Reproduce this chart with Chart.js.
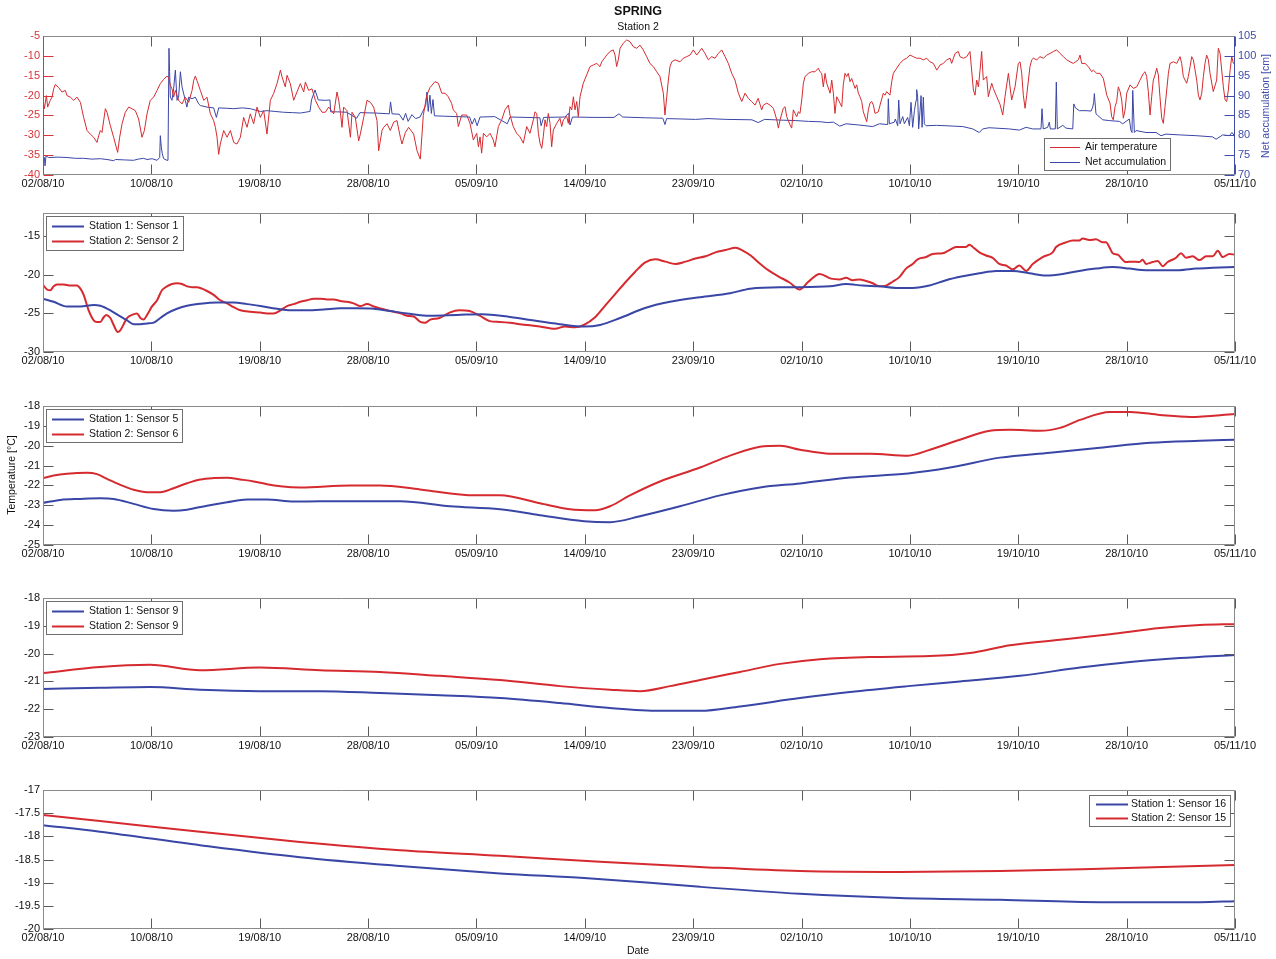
<!DOCTYPE html>
<html>
<head>
<meta charset="utf-8">
<title>SPRING – Station 2</title>
<script src="https://cdn.jsdelivr.net/npm/chart.js@4.4.1/dist/chart.umd.min.js"></script>
<style>
  html, body { margin: 0; padding: 0; background: #fff; }
  #wrap { position: relative; width: 1276px; height: 959px; overflow: hidden; }
  #wrap canvas { position: absolute; left: 0; top: 0; }
</style>
</head>
<body>
<div id="wrap">
  <canvas id="p1" width="1276" height="959"></canvas>
  <canvas id="p2" width="1276" height="959"></canvas>
  <canvas id="p3" width="1276" height="959"></canvas>
  <canvas id="p4" width="1276" height="959"></canvas>
  <canvas id="p5" width="1276" height="959"></canvas>
</div>
<script>
// ---- time axis: days since 02/08/10 ----
const spanDays = 95;
const dateLabels = ['02/08/10','10/08/10','19/08/10','28/08/10','05/09/10','14/09/10',
                    '23/09/10','02/10/10','10/10/10','19/10/10','28/10/10','05/11/10'];

// ---- panel 1: air temperature [°C] and net accumulation [cm], station 2 ----
const airTemperature = [[0,-21.2],[0.11,-23.3],[0.27,-20],[0.37,-22.9],[0.58,-21.2],[0.72,-20.4],[0.85,-18.3],[0.98,-17.2],[1.25,-18],[1.51,-19.1],[1.78,-18.7],[1.91,-20],[2.18,-20.4],[2.44,-21.2],[2.71,-20.4],[2.98,-21.7],[3.24,-25.5],[3.51,-28.8],[3.77,-29.7],[4.04,-30.5],[4.3,-31.8],[4.44,-30.1],[4.57,-28.8],[4.7,-29.3],[4.97,-23.3],[5.1,-24.2],[5.37,-27.6],[5.63,-30.5],[5.77,-32.2],[5.95,-34.3],[6.11,-30.5],[6.3,-27.1],[6.56,-24.2],[6.83,-22.9],[7.09,-23.3],[7.36,-23.8],[7.62,-25.9],[7.89,-30.5],[8.08,-28.8],[8.29,-24.6],[8.55,-21.2],[8.82,-20.4],[9.09,-18.7],[9.35,-17],[9.62,-15.9],[9.88,-15.1],[10.02,-15.5],[10.15,-17.4],[10.28,-18.3],[10.41,-20.4],[10.55,-18.7],[10.81,-21.2],[11.08,-22.1],[11.34,-20.4],[11.61,-21.7],[11.88,-18.7],[12.01,-16.2],[12.14,-15.1],[12.27,-16.2],[12.54,-18.7],[12.81,-21.2],[13.07,-20.4],[13.34,-24.6],[13.6,-26.3],[13.74,-28],[13.87,-30.5],[14,-34.8],[14.13,-32.2],[14.4,-28.8],[14.67,-30.5],[14.93,-28.8],[15.2,-31.8],[15.46,-32.2],[15.73,-30.5],[15.99,-25.5],[16.26,-28],[16.52,-24.6],[16.79,-27.1],[17.06,-22.9],[17.32,-25.5],[17.59,-23.8],[17.85,-29.7],[18.12,-21.2],[18.38,-19.5],[18.65,-17],[18.92,-13.6],[19.05,-15.3],[19.31,-17.8],[19.45,-14.9],[19.71,-17],[19.98,-21.2],[20.24,-19.1],[20.51,-17],[20.78,-19.1],[20.91,-16.6],[21.17,-18.7],[21.44,-18.3],[21.71,-21.2],[21.97,-22.9],[22.24,-24.2],[22.5,-24.2],[22.77,-22.9],[23.17,-24.6],[23.43,-19.1],[23.57,-21.2],[23.7,-24.2],[23.83,-28],[23.96,-22.9],[24.23,-23.8],[24.5,-30.5],[24.63,-24.2],[24.89,-25.5],[25.16,-31.4],[25.29,-29.7],[25.56,-25.5],[25.82,-21.2],[26.09,-21.7],[26.35,-22.9],[26.62,-26.3],[26.75,-33.9],[27.02,-28.8],[27.15,-28],[27.42,-27.1],[27.68,-28.8],[27.95,-26.7],[28.21,-26.3],[28.48,-30.5],[28.61,-32.2],[28.88,-29.3],[29.14,-28],[29.54,-29.7],[29.81,-33.9],[30.07,-36],
[30.31,-25],[30.58,-20],[30.84,-18],[31.24,-16.5],[31.51,-16.9],[31.78,-19.4],[32.04,-19.4],[32.3,-20.3],[32.57,-22],[32.7,-23.6],[32.97,-24.5],[33.1,-27.8],[33.37,-24.9],[33.77,-24.9],[34.03,-27],[34.3,-31.2],[34.57,-29.5],[34.7,-32.9],[34.83,-30.4],[34.96,-34.5],[35.1,-29.5],[35.36,-30.4],[35.63,-29.5],[35.89,-31.2],[36.02,-32.9],[36.29,-27.8],[36.56,-26.1],[36.82,-23.6],[37.09,-22.4],[37.22,-24.9],[37.48,-27.8],[37.75,-29.5],[38.02,-30.4],
[38.28,-32],[38.55,-27.8],[38.81,-29.5],[39.08,-26.1],[39.21,-24.1],[39.35,-24.5],[39.48,-29.5],[39.61,-32],[39.75,-33.3],[39.87,-30.4],[40.01,-26.1],[40.14,-27.8],[40.27,-24.5],[40.41,-27],[40.54,-32.9],[40.67,-28.7],[40.94,-27],[41.2,-25.7],[41.34,-27.8],[41.47,-26.1],[41.74,-25.3],[41.87,-27],[42,-22.8],[42.14,-23.6],[42.27,-20.3],[42.4,-23.6],[42.54,-21.5],[42.66,-25.3],[42.8,-20.3],[42.93,-18.6],[43.06,-16.9],[43.33,-14.8],[43.6,-12.7],[43.86,-12.3],[44.13,-11.9],[44.39,-12.7],[44.53,-11.5],[44.93,-9.8],[45.19,-8.9],[45.45,-8.5],[45.59,-9.8],[45.72,-12.7],[45.85,-11],[45.99,-8.1],[46.25,-6.8],[46.52,-6],[46.78,-6.4],[47.05,-7.7],[47.32,-8.1],[47.58,-7.3],[47.84,-8.5],[48.11,-10.2],[48.37,-11.9],[48.64,-12.7],[48.91,-14],[49.17,-15.2],[49.44,-19.4],[49.57,-24.9],[49.71,-20.3],[49.84,-16.1],[49.97,-12.7],[50.11,-11.5],[50.37,-11],[50.77,-11.5],[51.03,-10.6],[51.3,-10.2],[51.57,-9.8],[51.83,-8.5],[52.1,-9.8],[52.5,-8.1],[52.76,-9.4],[53.03,-11],[53.29,-10.2],[53.56,-10.6],[53.82,-9.4],[54.09,-8.5],[54.36,-10.2],[54.62,-11.9],[54.89,-14.4],[55.15,-16.1],[55.42,-19.4],[55.69,-21.5],[55.95,-19.4],[56.21,-20.7],[56.48,-21.5],[56.75,-22.4],[57,-20.7],[57.28,-23.6],
[57.41,-22.4],[57.68,-21.9],[57.94,-22.4],[58.21,-23.2],[58.48,-26.1],[58.61,-28.2],[58.74,-26.1],[59,-23.2],[59.14,-22.8],[59.27,-25.3],[59.54,-27.4],[59.67,-28.2],[59.8,-23.6],[59.94,-24.5],[60.07,-25.3],[60.2,-24.1],[60.33,-24.5],[60.47,-21.1],[60.6,-16.9],[60.73,-15.2],[61,-14.4],[61.26,-14],[61.53,-14],[61.79,-13.1],[61.93,-14],[62.06,-14.4],[62.19,-17.8],[62.33,-14.4],[62.46,-16.9],[62.73,-19.4],[62.86,-16.1],[62.99,-19.4],[63.12,-24.5],[63.26,-20.3],[63.52,-21.9],[63.66,-22.8],[63.78,-17.3],[63.92,-14.4],[64.05,-15.2],[64.18,-14.4],[64.32,-16.5],[64.45,-15.7],[64.58,-16.9],[64.72,-18.2],[64.85,-17.3],[64.98,-19.4],[65.11,-20.3],[65.25,-21.5],[65.38,-24.1],[65.65,-26.6],[65.78,-23.6],[65.91,-21.9],[66.05,-21.5],[66.18,-22.4],[66.31,-24.5],[66.57,-24.1],[66.71,-22.4],[66.97,-19.4],[67.11,-19.9],[67.24,-19],[67.5,-19.9],[67.64,-16.5],[67.77,-14.4],[68.04,-13.1],[68.3,-11.9],[68.57,-11],[68.83,-10.6],[69.1,-9.8],[69.36,-10.2],[69.63,-10.6],[69.9,-10.6],[70.16,-11],[70.43,-10.6],[70.69,-11.5],[70.96,-11.9],[71.23,-13.6],[71.49,-12.3],[71.76,-11.9],[72.02,-11],[72.29,-10.6],[72.42,-11.9],[72.69,-9.4],[72.95,-8.9],[73.08,-10.2],[73.35,-10.6],[73.62,-10.2],[73.88,-8.9],[74.15,-18.6],[74.28,-19.9],[74.41,-16.1],[74.55,-17.8],[74.68,-13.6],[74.81,-8.9],[74.94,-16.1],[75.21,-15.2],[75.34,-20.3],[75.47,-18.6],[75.61,-16.9],[75.74,-18.2],[76.01,-20.3],[76.27,-22.2],[76.49,-24.9],[76.67,-20.3],[76.94,-14.4],[77.07,-17.8],[77.2,-21.1],[77.47,-17.8],[77.73,-11.9],[77.87,-11.5],[78,-14.4],[78.13,-19.9],[78.27,-23.2],[78.4,-19.9],[78.66,-12.7],[78.8,-11],[78.93,-10.6],[79.2,-11],[79.46,-10.2],[79.73,-10.6],[80,-9.8],[80.26,-9.4],[80.52,-8.9],[80.79,-8.5],[81.06,-9.4],[81.32,-10.2],[81.59,-11],[81.85,-11.5],[82.12,-11.9],[82.51,-11],[82.65,-9.8],[82.78,-11.9],[83.05,-11.9],[83.31,-12.7],[83.58,-14],[83.71,-13.6],[83.98,-14.4],[84.24,-14.4],[84.51,-15.7],[84.78,-19.9],[85.04,-21.9],[85.17,-25.3],[85.3,-26.1],[85.44,-22.8],[85.57,-21.5],[85.7,-17.8],[85.84,-19],[85.97,-21.1],[86.1,-25.7],[86.24,-23.6],[86.37,-19.4],[86.64,-17.3],[86.9,-18.2],[87.17,-17.8],[87.43,-16.1],[87.7,-14.4],[87.83,-14],[87.96,-15.2],[88.09,-19],[88.23,-24.9],[88.36,-20.3],[88.49,-16.1],[88.63,-14.8],[88.76,-13.1],[88.89,-14.8],[89.02,-20.3],[89.16,-25.7],[89.29,-27],[89.42,-22.8],[89.56,-18.6],[89.69,-14.4],[89.82,-11.9],[90.09,-11.5],[90.36,-11.9],[90.62,-10.2],[90.75,-11.9],[90.88,-15.2],[91.02,-16.1],[91.15,-16.9],[91.28,-15.2],[91.42,-12.7],[91.55,-10.2],[91.68,-11],[91.95,-16.1],[92.08,-19.9],[92.21,-21.1],[92.35,-19.4],[92.48,-15.2],[92.61,-11.9],[92.74,-9.8],[92.88,-11],[93.01,-14.4],[93.27,-19],[93.54,-16.1],[93.67,-8.1],[93.81,-9.4],[94.07,-17.8],[94.21,-21.1],[94.34,-21.5],[94.47,-18.6],[94.61,-13.6],[94.74,-10.2],[94.87,-11.9],[95,-11.5]];

const netAccumulation = [[0,74.8],[0.11,74.4],[0.16,72.3],[0.24,74.8],[0.45,74.4],[1.2,74.5],[1.91,74.4],[2.6,74.2],[3.24,74.2],[3.9,74],[4.57,74.1],[5.1,73.9],[5.63,73.6],[5.77,73.9],[6.5,73.8],[7.22,73.7],[7.6,74],[8.02,74.2],[8.29,73.9],[8.7,74.1],[9.09,73.7],[9.3,74.4],[9.35,79.9],[9.43,77],[9.51,75.3],[9.62,74.1],[9.88,73.7],[9.96,73.7],[10.04,101.9],[10.09,96],[10.15,89.6],[10.28,88.8],[10.41,91.7],[10.55,96.4],[10.68,88.8],[10.81,89.6],[10.95,96],[11.08,92.2],[11.34,88.8],[11.47,87.1],[11.61,89.6],[11.88,89.2],[12.14,89.6],[12.41,87.9],[12.54,87.5],[13.07,87.1],[13.6,86.9],[13.82,84.5],[14,86.9],[14.6,86.8],[15.2,86.7],[15.9,86.9],[16.52,86.7],[17.32,86],[17.85,86.2],[18.5,86],[19.18,85.8],[19.9,85.7],[20.51,85.6],[21.28,86],[21.4,88.9],[21.68,91.4],[21.94,88.9],[22.5,88.8],[22.87,88.9],[22.93,85.9],[23.5,85.9],[24.2,85.8],[25,84.3],[25.26,85.7],[26.5,85.6],[27.6,85.4],[27.7,88.4],[27.82,85.4],[28.4,85.3],[28.7,83.8],[28.9,85.5],[29.1,83.5],[29.4,85.2],[29.7,84.2],[30.05,84.6],[30.5,87.5],[30.6,90.9],[30.7,86],[30.84,90.1],[30.95,85.5],[31.08,89],[31.2,84.9],[32,84.8],[33,84.7],[34,84.6],[34.2,82.8],[34.4,84.3],[34.6,82.4],[34.83,84.6],[36,84.7],[37,82.9],[37.22,84.6],[38.5,84.5],[39.6,84.4],[39.7,82.4],[39.9,84.5],[41.6,84.6],[41.9,85.6],[42,82.6],[42.2,84.6],[44,84.5],[45.5,84.5],[45.9,85.4],[46.2,84.6],[48,84.4],[49.4,84.3],[49.57,82.7],[49.7,84.2],[51,84.1],[52,84],[53,84.2],[54.5,84],[56.5,83.9],[57,83.2],[57.5,84],[59,83.8],[60,83.7],[61,83.5],[62,83.4],[62.5,83.2],[63,83.3],[63.5,82.3],[64,82.9],[65,82.6],[66.13,82.2],[66.66,82.9],[67.32,82.7],[67.37,89.2],[67.45,82.9],[67.85,83.3],[67.93,84.1],[68.12,82.4],[68.2,88.9],[68.3,82.9],[68.52,84.7],[68.65,82.9],[68.91,84.5],[69.05,82.4],[69.18,88.3],[69.31,82],[69.45,86.2],[69.58,88.8],[69.63,91.5],[69.71,89.6],[69.79,81.6],[69.9,86.2],[69.98,90],[70.06,82],[70.16,89.6],[70.24,82.9],[70.38,82.4],[71.2,82.5],[71.97,82.4],[72.6,82.3],[73.3,82.2],[74.1,81.6],[74.62,80.7],[74.89,81.6],[75.4,81.9],[75.95,81.8],[77.02,81.6],[77.81,81.3],[78.35,82],[78.88,81.6],[79.54,81.6],[79.62,86.7],[79.72,81.6],[80.07,82],[80.2,83.3],[80.28,81.6],[80.68,81.6],[80.76,93.4],[80.84,81.6],[81.27,82.5],[81.53,81.8],[82.07,81.6],[82.15,87.9],[82.28,86.9],[82.6,86.2],[83.13,86.2],[83.53,86.1],[83.66,87.1],[83.74,88.3],[83.79,90.5],[83.92,85.4],[84.06,85],[84.46,83.9],[84.98,83.7],[85.78,83.5],[86.05,82.9],[86.58,84.1],[86.71,81.2],[86.79,80.7],[86.85,91.3],[86.98,80.7],[87.11,81.2],[87.91,80.7],[88.71,80.7],[89.1,79.9],[89.5,80.3],[90.56,80.1],[91.89,79.9],[93.22,79.6],[93.49,79],[94.02,80.1],[94.55,79.9],[94.76,80.7],[94.95,79.9]];

// ---- panel 2: station 1 sensor 1 / station 2 sensor 2 [°C] ----
const st1Sensor1 = [[0,-23.1],[0.85,-23.5],[1.91,-24.1],[2.98,-24.1],[4.04,-23.9],[4.57,-24],[5.37,-24.6],[6.16,-25.4],[6.7,-25.9],[7.23,-26.4],[7.76,-26.4],[8.29,-26.3],[8.82,-26.2],[9.35,-25.6],[9.88,-25],[10.68,-24.4],[11.48,-24],[12.54,-23.75],[13.87,-23.6],[15.2,-23.6],[16.26,-23.8],[17.32,-24.05],[18.65,-24.4],[19.71,-24.6],[21.04,-24.6],[22.37,-24.5],[23.7,-24.35],[25.03,-24.35],[26.35,-24.4],[27.68,-24.7],[29.01,-25],[30.87,-25.3],[33,-25.2],[35,-25.1],[37,-25.4],[39,-25.9],[41.2,-26.4],[43.12,-26.7],[44.4,-26.5],[45.99,-25.6],[47.98,-24.3],[49.97,-23.5],[52.36,-22.9],[54.75,-22.4],[56.35,-21.8],[58.74,-21.6],[60.33,-21.6],[62.73,-21.5],[64,-21.2],[65.33,-21.4],[66.66,-21.5],[67.99,-21.7],[69.31,-21.7],[70.64,-21.4],[71.97,-20.7],[73.3,-20.2],[74.63,-19.8],[75.96,-19.5],[77.28,-19.5],[78.61,-19.8],[79.94,-20.1],[81.27,-19.9],[82.59,-19.5],[83.92,-19.2],[85.25,-19],[86.58,-19.2],[87.91,-19.4],[89.24,-19.4],[90.56,-19.4],[91.89,-19.2],[93.22,-19.1],[95,-19]];
const st2Sensor2 = [[0,-21.3],[0.32,-21.9],[0.58,-22],[0.85,-21.5],[1.12,-21.25],[1.65,-21.25],[2.18,-21.4],[2.71,-21.4],[2.98,-21.8],[3.24,-22.6],[3.64,-24.6],[4.04,-25.9],[4.3,-26.1],[4.57,-26.1],[4.84,-25.5],[5.05,-25.2],[5.37,-25.6],[5.63,-26.5],[5.95,-27.4],[6.16,-27.2],[6.43,-26.4],[6.7,-25.6],[7.09,-25.2],[7.49,-25],[7.76,-25.6],[8.02,-25.8],[8.29,-25.2],[8.69,-24.1],[9.09,-23.3],[9.48,-22],[9.88,-21.5],[10.28,-21.2],[10.68,-21.1],[11.08,-21.2],[11.48,-21.5],[11.88,-21.6],[12.27,-21.6],[12.67,-21.8],[13.07,-22.1],[13.6,-22.6],[14.13,-23.3],[14.67,-23.7],[15.2,-24.2],[15.73,-24.6],[16.52,-24.8],[17.32,-24.9],[17.85,-25],[18.38,-25],[18.92,-24.6],[19.45,-24.05],[19.98,-23.8],[20.51,-23.5],[21.04,-23.3],[21.57,-23.1],[22.1,-23.1],[22.64,-23.2],[23.17,-23.2],[23.7,-23.4],[24.23,-23.5],[24.76,-23.7],[25.29,-24.05],[25.82,-23.8],[26.35,-24.1],[26.89,-24.35],[27.42,-24.6],[27.95,-24.8],[28.48,-25],[29.01,-25.3],[29.54,-25.4],[30.07,-26.1],[30.47,-26.2],[30.87,-25.8],[31.6,-25.6],[32.4,-24.9],[33.2,-24.6],[34,-24.7],[34.8,-25.3],[35.6,-26],[36.4,-26.1],[37.2,-26.2],[38,-26.4],[39.6,-26.7],[40.8,-27],[41.6,-26.7],[42.4,-26.8],[43.1,-26.5],[44,-25.5],[44.8,-24],[45.6,-22.5],[46.4,-21],[47.2,-19.6],[48,-18.4],[48.8,-18],[49.6,-18.3],[50.4,-18.6],[51.2,-18.3],[52,-17.9],[52.8,-17.6],[53.6,-17.1],[54.4,-16.8],[55.2,-16.5],[55.8,-16.9],[56.4,-17.5],[57.1,-18.5],[57.8,-19.4],[58.6,-20.2],[59.5,-21],[60.3,-21.9],[61,-20.9],[61.9,-19.9],[62.8,-20.5],[63.5,-20.6],[64,-20.4],[64.53,-20.7],[65.06,-20.6],[65.59,-20.8],[66.13,-21.1],[66.66,-21.5],[67.19,-21.4],[67.72,-20.9],[68.25,-20.3],[68.78,-19.2],[69.31,-18.6],[69.71,-18],[70.38,-17.7],[70.91,-17.3],[71.7,-17.2],[72.23,-16.8],[72.77,-16.4],[73.56,-16.4],[73.83,-16.1],[74.1,-16.4],[74.63,-17.1],[75.16,-17.5],[75.69,-17.8],[76.22,-18.6],[76.75,-18.8],[77.28,-19.3],[77.81,-18.8],[78.35,-19.5],[78.88,-18.6],[79.67,-17.7],[80.47,-17.1],[80.74,-16.4],[81.53,-15.8],[82.06,-15.55],[82.59,-15.55],[82.86,-15.3],[83.39,-15.5],[83.92,-15.4],[84.45,-15.8],[84.72,-15.8],[84.98,-16.4],[85.25,-17.2],[85.65,-17.4],[86.31,-18.35],[86.84,-18.3],[87.38,-18.35],[87.64,-18.05],[87.91,-18.6],[88.44,-18.35],[88.84,-18.2],[89.24,-18.9],[89.64,-18.35],[90.3,-17.8],[90.7,-17.2],[91.1,-17.8],[91.63,-17.6],[92.16,-18.1],[92.7,-17.6],[93.23,-17.6],[93.63,-16.9],[94.02,-17.7],[94.55,-17.3],[95,-17.4]];

// ---- panel 3: station 1 sensor 5 / station 2 sensor 6 [°C] ----
const st1Sensor5 = [[0,-22.88],[1.38,-22.73],[2.98,-22.68],[4.57,-22.65],[5.63,-22.68],[7.23,-22.93],[8.82,-23.19],[10.41,-23.27],[11.48,-23.22],[13.07,-23.02],[14.67,-22.85],[16.26,-22.71],[17.85,-22.71],[19.98,-22.81],[22.08,-22.8],[24.47,-22.8],[26.86,-22.8],[28.45,-22.8],[32.44,-23.05],[36.42,-23.2],[39.61,-23.5],[43.12,-23.8],[45.19,-23.85],[47.58,-23.55],[50.77,-23.05],[53.96,-22.5],[57.14,-22.1],[60.33,-21.9],[64.32,-21.6],[68.94,-21.4],[72.29,-21.1],[76.27,-20.6],[80.26,-20.35],[84.24,-20.1],[88.23,-19.85],[92.21,-19.75],[95,-19.7]];
const st2Sensor6 = [[0,-21.63],[0.85,-21.5],[1.91,-21.41],[3.51,-21.36],[4.3,-21.43],[5.1,-21.67],[6.16,-21.97],[7.23,-22.22],[8.29,-22.34],[9.35,-22.34],[10.41,-22.14],[11.48,-21.89],[12.54,-21.7],[13.6,-21.63],[14.67,-21.61],[15.73,-21.7],[16.79,-21.8],[17.85,-21.94],[18.92,-22.04],[20.51,-22.1],[24.47,-22],[26.86,-22],[30.05,-22.2],[34.43,-22.5],[36.42,-22.5],[39.61,-22.9],[42,-23.2],[44,-23.25],[45.19,-23.05],[46.78,-22.5],[49.17,-21.8],[52.36,-21.1],[54.75,-20.5],[57.14,-20.05],[58.74,-20],[60.33,-20.2],[62.73,-20.4],[65.91,-20.4],[68.94,-20.5],[70.69,-20.2],[73.08,-19.7],[75.47,-19.25],[77.07,-19.2],[79.46,-19.25],[81.06,-19.1],[82.65,-18.7],[85.04,-18.3],[86.64,-18.3],[89.02,-18.45],[91.42,-18.55],[95,-18.4]];

// ---- panel 4: station 1 sensor 9 / station 2 sensor 9 [°C] ----
const st1Sensor9 = [[0,-21.27],[4.54,-21.23],[8.53,-21.2],[12.51,-21.3],[17.29,-21.35],[22.08,-21.35],[26.86,-21.42],[31.64,-21.5],[36.42,-21.6],[41.2,-21.78],[45.19,-21.96],[49.17,-22.06],[52.36,-22.06],[55.55,-21.9],[60.33,-21.6],[64.32,-21.38],[68.94,-21.17],[73.08,-21],[77.87,-20.8],[82.65,-20.5],[86.64,-20.3],[90.62,-20.16],[95,-20.05]];
const st2Sensor9 = [[0,-20.7],[4.54,-20.48],[8.53,-20.4],[12.51,-20.6],[17.29,-20.5],[22.08,-20.6],[26.86,-20.66],[31.64,-20.8],[36.42,-20.95],[41.2,-21.17],[45.19,-21.3],[47.58,-21.35],[49.97,-21.17],[52.36,-20.95],[55.55,-20.66],[58.74,-20.37],[61.93,-20.2],[65.91,-20.12],[70.69,-20.09],[73.88,-19.98],[77.07,-19.7],[81.06,-19.5],[85.04,-19.3],[89.02,-19.08],[92.21,-18.97],[95,-18.94]];

// ---- panel 5: station 1 sensor 16 / station 2 sensor 15 [°C] ----
const st1Sensor16 = [[0,-17.76],[4.54,-17.9],[12.51,-18.19],[20.48,-18.45],[28.45,-18.64],[36.42,-18.8],[43.12,-18.9],[48.37,-19],[52.36,-19.09],[60.33,-19.24],[68.3,-19.33],[76.27,-19.37],[84.24,-19.42],[92.21,-19.42],[95,-19.4]];
const st2Sensor15 = [[0,-17.54],[4.54,-17.67],[12.51,-17.9],[20.48,-18.12],[28.45,-18.3],[36.42,-18.42],[44.39,-18.55],[52.36,-18.66],[60.33,-18.75],[68.3,-18.77],[76.27,-18.75],[84.24,-18.7],[95,-18.62]];

// ---- y tick values per panel ----
const airTicks = [-40,-35,-30,-25,-20,-15,-10,-5];
const accTicks = [70,75,80,85,90,95,100,105];
const p2Ticks = [-30,-25,-20,-15];
const p3Ticks = [-25,-24,-23,-22,-21,-20,-19,-18];
const p4Ticks = [-23,-22,-21,-20,-19,-18];
const p5Ticks = [-20,-19.5,-19,-18.5,-18,-17.5,-17];

// ---- styling ----
const RED = '#d52a2f';
const BLUE = '#3a46a6';
const AXIS_RED = '#d8343a';
const AXIS_BLUE = '#3f4caa';
const FRAME = '#8a8a8a';
const TICK = '#5a5a5a';
const FONT = '"Liberation Sans", Arial, Helvetica, sans-serif';
const PAGE_H = 959;

Chart.defaults.font.family = FONT;
Chart.defaults.font.size = 11;
Chart.defaults.color = '#1a1a1a';
Chart.defaults.animation = false;

const toXY = pts => pts.map(([x, y]) => ({ x, y }));

// Boxed axes with inward ticks, an in-plot legend and free text labels.
const boxedAxes = {
  id: 'boxedAxes',
  afterDatasetsDraw(chart, args, o) {
    const ctx = chart.ctx, a = chart.chartArea, xs = chart.scales.x;
    const L = Math.round(a.left) + 0.5, R = Math.round(a.right) - 0.5;
    const T = Math.round(a.top) + 0.5, B = Math.round(a.bottom) - 0.5;
    const tl = o.tickLen;
    ctx.save();
    ctx.lineWidth = 1;

    ctx.strokeStyle = TICK;
    ctx.beginPath();
    xs.ticks.forEach(t => {
      const px = Math.round(xs.getPixelForValue(t.value)) + 0.5;
      ctx.moveTo(px, T); ctx.lineTo(px, T + tl);
      ctx.moveTo(px, B); ctx.lineTo(px, B - tl);
    });
    ctx.stroke();

    o.ySides.forEach(side => {
      const s = chart.scales[side.scale];
      const x0 = side.edge === 'left' ? L : R;
      const dir = side.edge === 'left' ? 1 : -1;
      ctx.strokeStyle = side.color;
      ctx.beginPath();
      s.ticks.forEach(t => {
        const py = Math.round(s.getPixelForValue(t.value)) + 0.5;
        ctx.moveTo(x0, py); ctx.lineTo(x0 + dir * tl, py);
      });
      ctx.stroke();
    });

    ctx.strokeStyle = FRAME;
    ctx.beginPath();
    ctx.moveTo(L, T); ctx.lineTo(R, T);
    ctx.moveTo(L, B); ctx.lineTo(R, B);
    ctx.stroke();
    ctx.strokeStyle = o.leftColor || FRAME;
    ctx.beginPath(); ctx.moveTo(L, T); ctx.lineTo(L, B); ctx.stroke();
    ctx.strokeStyle = o.rightColor || FRAME;
    ctx.beginPath(); ctx.moveTo(R, T); ctx.lineTo(R, B); ctx.stroke();

    const lg = o.legend;
    if (lg) {
      const bx = Math.round(lg.right ? a.right - lg.dx - lg.w : a.left + lg.dx);
      const by = Math.round(lg.bottom ? a.bottom - lg.dy - lg.h : a.top + lg.dy);
      ctx.fillStyle = '#fff';
      ctx.fillRect(bx, by, lg.w, lg.h);
      ctx.strokeStyle = '#6e6e6e';
      ctx.lineWidth = 1;
      ctx.strokeRect(bx + 0.5, by + 0.5, lg.w, lg.h);
      ctx.font = lg.font;
      ctx.textBaseline = 'middle';
      ctx.textAlign = 'left';
      chart.data.datasets.forEach((ds, i) => {
        const yy = by + lg.row0 + i * lg.rowGap;
        ctx.strokeStyle = ds.borderColor;
        ctx.lineWidth = ds.borderWidth;
        ctx.beginPath();
        ctx.moveTo(bx + lg.lx0, yy + 0.5); ctx.lineTo(bx + lg.lx1, yy + 0.5);
        ctx.stroke();
        ctx.fillStyle = '#111';
        ctx.fillText(ds.label, bx + lg.tx, yy + 0.5);
      });
    }

    (o.texts || []).forEach(t => {
      ctx.save();
      ctx.translate(t.x, t.y);
      if (t.rotate) ctx.rotate(t.rotate);
      ctx.font = t.font;
      ctx.fillStyle = t.color || '#111';
      ctx.textAlign = 'center';
      ctx.textBaseline = 'middle';
      ctx.fillText(t.text, 0, 0);
      ctx.restore();
    });
    ctx.restore();
  }
};

function xScale() {
  return {
    type: 'linear', min: 0, max: spanDays,
    afterBuildTicks: s => {
      s.ticks = dateLabels.map((_, i) => ({ value: i * spanDays / (dateLabels.length - 1) }));
    },
    afterFit: s => { s.height = 20; },
    grid: { display: false, drawTicks: false },
    border: { display: false },
    ticks: { autoSkip: false, maxRotation: 0, minRotation: 0, padding: 2, color: '#111',
             callback: (v, i) => dateLabels[i] }
  };
}

function yScale(pos, min, max, ticks, color, width) {
  return {
    type: 'linear', position: pos, min, max,
    afterBuildTicks: s => { s.ticks = ticks.map(v => ({ value: v })); },
    afterFit: s => { s.width = width; },
    grid: { display: false, drawTicks: false },
    border: { display: false },
    ticks: { autoSkip: false, padding: 3, color, callback: v => String(v) }
  };
}

function lineSet(label, pts, color, width, extra) {
  return Object.assign({
    label, data: toXY(pts), borderColor: color, backgroundColor: color,
    borderWidth: width, pointRadius: 0, pointHoverRadius: 0, fill: false, tension: 0
  }, extra || {});
}

function panel(id, top, bottom, cfg) {
  return new Chart(document.getElementById(id), {
    type: 'line',
    data: { datasets: cfg.datasets },
    options: {
      responsive: false,
      animation: false,
      events: [],
      parsing: false,
      layout: { padding: { top, bottom: PAGE_H - bottom - 20, left: 0, right: cfg.rightPad } },
      scales: cfg.scales,
      plugins: {
        legend: { display: false },
        tooltip: { enabled: false },
        boxedAxes: cfg.box
      }
    },
    plugins: [boxedAxes]
  });
}

const smooth = { cubicInterpolationMode: 'monotone' };
const legendLeft = { right: false, bottom: false, dx: 3, dy: 3, w: 137, h: 34, row0: 10, rowGap: 15,
                     lx0: 6, lx1: 38, tx: 43, font: '10.5px ' + FONT };

// Panel 1: air temperature (left axis) and net accumulation (right axis)
panel('p1', 36, 175, {
  rightPad: 0,
  datasets: [
    lineSet('Air temperature', airTemperature, RED, 1, { yAxisID: 'y' }),
    lineSet('Net accumulation', netAccumulation, BLUE, 1, { yAxisID: 'y2' })
  ],
  scales: {
    x: xScale(),
    y: yScale('left', -40, -5, airTicks, AXIS_RED, 43),
    y2: yScale('right', 70, 105, accTicks, AXIS_BLUE, 41)
  },
  box: {
    tickLen: 10, leftColor: AXIS_RED, rightColor: AXIS_BLUE,
    ySides: [{ scale: 'y', edge: 'left', color: AXIS_RED }, { scale: 'y2', edge: 'right', color: AXIS_BLUE }],
    legend: { right: true, bottom: true, dx: 65, dy: 5, w: 126, h: 32, row0: 9, rowGap: 15,
              lx0: 6, lx1: 36, tx: 41, font: '10.5px ' + FONT },
    texts: [
      { text: 'SPRING', x: 638, y: 12, font: 'bold 12.5px ' + FONT },
      { text: 'Station 2', x: 638, y: 27, font: '10.5px ' + FONT },
      { text: 'Net accumulation [cm]', x: 1266, y: 106, rotate: -Math.PI / 2, font: '10.5px ' + FONT, color: AXIS_BLUE }
    ]
  }
});

// Panel 2
panel('p2', 213, 352, {
  rightPad: 41,
  datasets: [
    lineSet('Station 1: Sensor 1', st1Sensor1, BLUE, 2, smooth),
    lineSet('Station 2: Sensor 2', st2Sensor2, RED, 2, smooth)
  ],
  scales: { x: xScale(), y: yScale('left', -30, -12, p2Ticks, '#111', 43) },
  box: {
    tickLen: 10,
    ySides: [{ scale: 'y', edge: 'left', color: TICK }, { scale: 'y', edge: 'right', color: TICK }],
    legend: legendLeft
  }
});

// Panel 3
panel('p3', 406, 545, {
  rightPad: 41,
  datasets: [
    lineSet('Station 1: Sensor 5', st1Sensor5, BLUE, 2, smooth),
    lineSet('Station 2: Sensor 6', st2Sensor6, RED, 2, smooth)
  ],
  scales: { x: xScale(), y: yScale('left', -25, -18, p3Ticks, '#111', 43) },
  box: {
    tickLen: 10,
    ySides: [{ scale: 'y', edge: 'left', color: TICK }, { scale: 'y', edge: 'right', color: TICK }],
    legend: Object.assign({}, legendLeft, { w: 136, h: 33 }),
    texts: [{ text: 'Temperature [°C]', x: 12, y: 475, rotate: -Math.PI / 2, font: '10.5px ' + FONT }]
  }
});

// Panel 4
panel('p4', 598, 737, {
  rightPad: 41,
  datasets: [
    lineSet('Station 1: Sensor 9', st1Sensor9, BLUE, 2, smooth),
    lineSet('Station 2: Sensor 9', st2Sensor9, RED, 2, smooth)
  ],
  scales: { x: xScale(), y: yScale('left', -23, -18, p4Ticks, '#111', 43) },
  box: {
    tickLen: 10,
    ySides: [{ scale: 'y', edge: 'left', color: TICK }, { scale: 'y', edge: 'right', color: TICK }],
    legend: Object.assign({}, legendLeft, { w: 136, h: 33 })
  }
});

// Panel 5
panel('p5', 790, 929, {
  rightPad: 41,
  datasets: [
    lineSet('Station 1: Sensor 16', st1Sensor16, BLUE, 2, smooth),
    lineSet('Station 2: Sensor 15', st2Sensor15, RED, 2, smooth)
  ],
  scales: { x: xScale(), y: yScale('left', -20, -17, p5Ticks, '#111', 43) },
  box: {
    tickLen: 10,
    ySides: [{ scale: 'y', edge: 'left', color: TICK }, { scale: 'y', edge: 'right', color: TICK }],
    legend: { right: true, bottom: false, dx: 5, dy: 5, w: 141, h: 31, row0: 9, rowGap: 14,
              lx0: 7, lx1: 39, tx: 42, font: '10.5px ' + FONT },
    texts: [{ text: 'Date', x: 638, y: 951, font: '10.5px ' + FONT }]
  }
});
</script>
</body>
</html>
